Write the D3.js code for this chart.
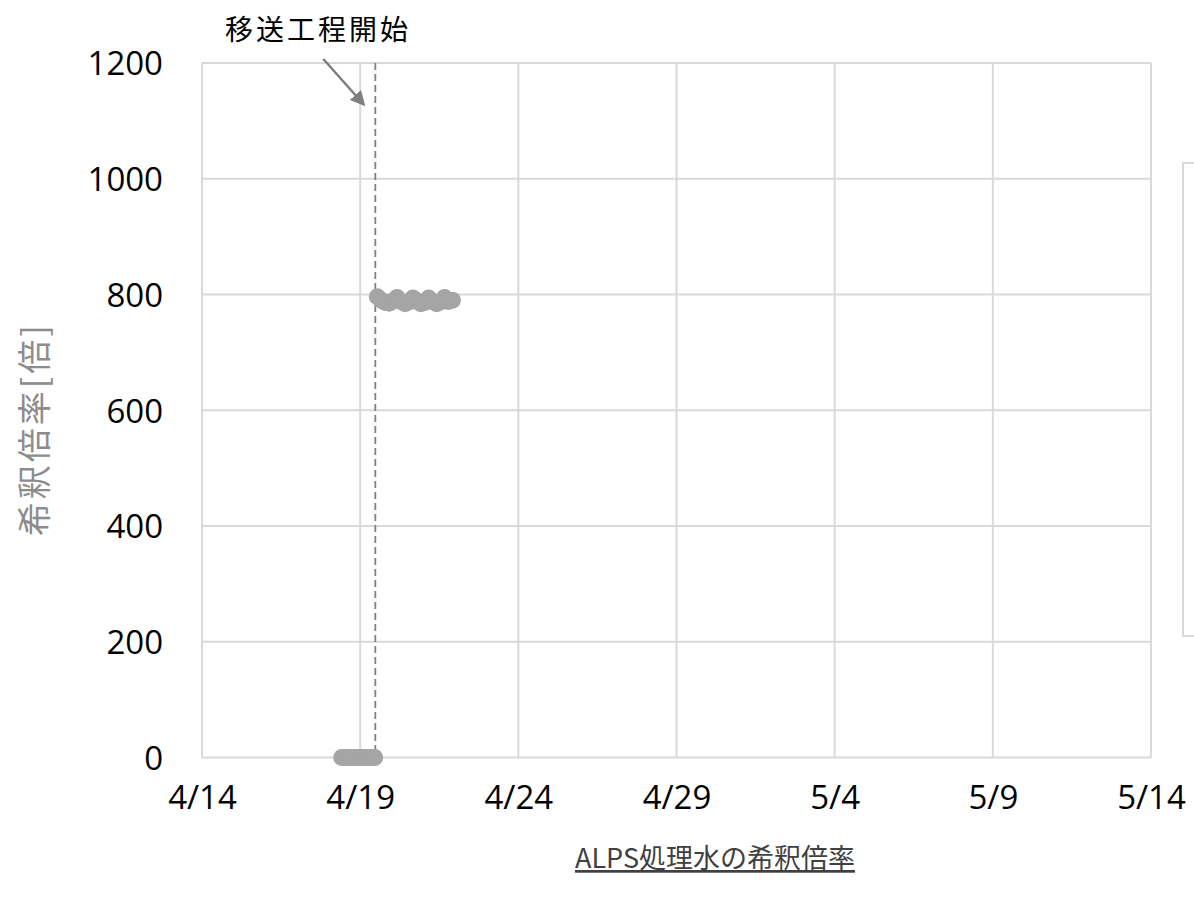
<!DOCTYPE html>
<html lang="ja">
<head>
<meta charset="utf-8">
<script src="https://cdn.jsdelivr.net/npm/d3@7/dist/d3.min.js"></script>
<style>
  html, body { margin: 0; padding: 0; background: #fff; }
  svg { display: block; }
</style>
</head>
<body>
<svg id="chart" width="1194" height="897"></svg>
<script>
// Dilution ratio of ALPS treated water (hourly samples, readings before/after transfer start)
const beforeTimes = [
  "2024-04-18 10:00", "2024-04-18 12:00", "2024-04-18 14:00", "2024-04-18 16:00",
  "2024-04-18 18:00", "2024-04-18 20:00", "2024-04-18 22:00", "2024-04-19 00:00",
  "2024-04-19 02:00", "2024-04-19 04:00", "2024-04-19 06:00", "2024-04-19 08:00",
  "2024-04-19 10:00", "2024-04-19 11:00"
];
const beforeValues = [0, 0, 0, 0, 0, 0, 0, 0, 0, 0, 0, 0, 0, 0];

const afterTimes = [
  "2024-04-19 13:00", "2024-04-19 16:00", "2024-04-19 19:00", "2024-04-19 22:00",
  "2024-04-20 01:00", "2024-04-20 04:00", "2024-04-20 07:00", "2024-04-20 10:00",
  "2024-04-20 13:00", "2024-04-20 16:00", "2024-04-20 19:00", "2024-04-20 22:00",
  "2024-04-21 01:00", "2024-04-21 04:00", "2024-04-21 07:00", "2024-04-21 10:00",
  "2024-04-21 13:00", "2024-04-21 16:00", "2024-04-21 19:00", "2024-04-21 22:00"
];
const afterValues = [
  796, 790, 786, 785, 789, 795, 788, 784, 787, 794, 789, 784,
  786, 794, 788, 784, 787, 795, 788, 790
];

const transferStart = "2024-04-19 11:30";
const transferLabel = "移送工程開始";

const xTickDates = ["2024-04-14", "2024-04-19", "2024-04-24", "2024-04-29", "2024-05-04", "2024-05-09", "2024-05-14"];
const xTickLabels = ["4/14", "4/19", "4/24", "4/29", "5/4", "5/9", "5/14"];
const yTicks = [0, 200, 400, 600, 800, 1000, 1200];

const xTitle = "ALPS処理水の希釈倍率";
const yTitle = "希釈倍率[倍]";

const parse = d3.timeParse("%Y-%m-%d %H:%M");
const parseDay = d3.timeParse("%Y-%m-%d");

const svg = d3.select("#chart");
const plot = { left: 202, right: 1151, top: 63, bottom: 757.5 };

const x = d3.scaleTime()
  .domain([parseDay(xTickDates[0]), parseDay(xTickDates[xTickDates.length - 1])])
  .range([plot.left, plot.right]);
const y = d3.scaleLinear()
  .domain([0, 1200])
  .range([plot.bottom, plot.top]);

const gridColor = "#d9d9d9";
const textFont = "'Open Sans', 'Noto Sans CJK JP', sans-serif";
const cjkFont = "'Noto Sans CJK JP', 'Noto Sans', sans-serif";

// Gridlines
const grid = svg.append("g");
grid.selectAll("line.h").data(yTicks).join("line")
  .attr("x1", plot.left).attr("x2", plot.right)
  .attr("y1", d => y(d)).attr("y2", d => y(d))
  .attr("stroke", gridColor).attr("stroke-width", 2);
grid.selectAll("line.v").data(xTickDates).join("line")
  .attr("x1", d => x(parseDay(d))).attr("x2", d => x(parseDay(d)))
  .attr("y1", plot.top).attr("y2", plot.bottom)
  .attr("stroke", gridColor).attr("stroke-width", 2);

// Y axis tick labels
const yAxis = svg.append("g")
  .attr("transform", `translate(${plot.left - 39},0)`)
  .call(d3.axisLeft(y).tickValues(yTicks).tickFormat(d3.format("d")).tickSize(0).tickPadding(0));
yAxis.select(".domain").remove();
yAxis.selectAll("text")
  .attr("font-family", textFont).attr("font-size", 33).attr("fill", "#000")
  .attr("dy", "0.36em");

// X axis tick labels
const xAxis = svg.append("g")
  .attr("transform", `translate(0,${plot.bottom + 28})`)
  .call(d3.axisBottom(x)
    .tickValues(xTickDates.map(parseDay))
    .tickFormat((d, i) => xTickLabels[i])
    .tickSize(0).tickPadding(0));
xAxis.select(".domain").remove();
xAxis.selectAll("text")
  .attr("font-family", textFont).attr("font-size", 33).attr("fill", "#000")
  .attr("dy", "0.71em");

// Transfer start marker
const xs = x(parse(transferStart));
svg.append("line")
  .attr("x1", xs).attr("x2", xs)
  .attr("y1", plot.top).attr("y2", plot.bottom)
  .attr("stroke", "#7f7f7f").attr("stroke-width", 1.8)
  .attr("stroke-dasharray", "7,4");

// Data points
const markerColor = "#a5a5a5";
const series = [
  beforeTimes.map((t, i) => ({ t: parse(t), v: beforeValues[i] })),
  afterTimes.map((t, i) => ({ t: parse(t), v: afterValues[i] }))
];
series.forEach(s => {
  svg.append("g").selectAll("circle").data(s).join("circle")
    .attr("cx", d => x(d.t)).attr("cy", d => y(d.v))
    .attr("r", 8.5).attr("fill", markerColor);
});

// Annotation with arrow
const defs = svg.append("defs");
defs.append("marker")
  .attr("id", "arrowhead")
  .attr("viewBox", "0 0 10 10")
  .attr("refX", 8).attr("refY", 5)
  .attr("markerWidth", 7).attr("markerHeight", 7)
  .attr("markerUnits", "userSpaceOnUse")
  .attr("orient", "auto")
  .append("path").attr("d", "M0,0 L10,5 L0,10 Z").attr("fill", "#7f7f7f");
defs.select("marker").attr("markerWidth", 15).attr("markerHeight", 15);

svg.append("line")
  .attr("x1", xs - 52).attr("y1", 59)
  .attr("x2", xs - 12).attr("y2", 104)
  .attr("stroke", "#7f7f7f").attr("stroke-width", 2.5)
  .attr("marker-end", "url(#arrowhead)");

svg.append("text")
  .attr("x", 318).attr("y", 40)
  .attr("text-anchor", "middle")
  .attr("font-family", cjkFont).attr("font-size", 28)
  .attr("letter-spacing", 3)
  .attr("fill", "#000")
  .text(transferLabel);

// Axis titles
svg.append("text")
  .attr("transform", `translate(47,${(plot.top + plot.bottom) / 2 + 19}) rotate(-90)`)
  .attr("text-anchor", "middle")
  .attr("font-family", cjkFont).attr("font-size", 34)
  .attr("letter-spacing", 3)
  .attr("fill", "#8c8c8c")
  .text(yTitle);

svg.append("text")
  .attr("x", 715).attr("y", 868)
  .attr("text-anchor", "middle")
  .attr("font-family", cjkFont).attr("font-size", 27)
  .attr("fill", "#404040")
  .attr("text-decoration", "underline")
  .text(xTitle);

// Legend frame
svg.append("rect")
  .attr("x", 1183).attr("y", 163)
  .attr("width", 40).attr("height", 473)
  .attr("fill", "none").attr("stroke", gridColor).attr("stroke-width", 2);
</script>
</body>
</html>
